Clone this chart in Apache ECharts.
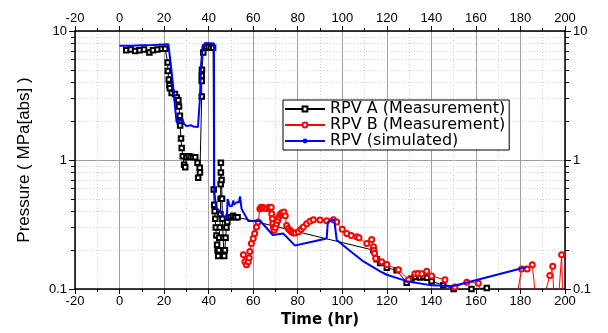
<!DOCTYPE html>
<html>
<head>
<meta charset="UTF-8">
<title>RPV pressure</title>
<script src="https://cdn.jsdelivr.net/npm/echarts@6/dist/echarts.min.js"></script>
<style>
  body { margin: 0; background: #fff; }
  #main { width: 608px; height: 333px; }
</style>
</head>
<body>
<div id="main"></div>
<script type="text/javascript">
// RPV A (Measurement)
var aTime = [3, 5, 7, 9, 11, 13.4, 15, 17, 19, 20.5,
  21.6, 21.7, 22.1, 22.4, 22.6, 23.4, 24.9, 25.7, 26.4, 26.7, 27.1, 27.1, 27.2, 27.6, 27.9, 28.4,
  29.0, 29.5, 30.0, 31.0, 32.0, 33.0, 34.0, 35.0, 35.3, 36.0, 36.1, 36.9, 36.9, 36.9, 37.0, 37.6, 38.4,
  39, 40, 41, 42,
  42.3, 42.5, 42.7, 43, 43.2, 43.5, 43.8, 44, 44.3, 44.6, 44.8, 45, 45.3, 45.4, 45.4, 45.5, 45.5,
  45.8, 46, 46.2, 46.5, 46.8, 47, 47.3, 47.6, 48, 48.4, 49, 50, 51, 52, 53,
  114, 115.5, 117, 120, 124.4, 128.9, 131, 132.6, 135, 136.4, 138, 140.1, 145.4, 150, 152, 158, 164.9];
var aPres = [7.1, 7.2, 7.0, 7.1, 7.2, 6.8, 7.1, 7.2, 7.3, 7.3,
  5.7, 4.9, 4.2, 3.8, 3.6, 3.3, 3.25, 3.05, 2.9, 2.6, 2.2, 2.0, 1.85, 1.47, 1.24, 1.07,
  0.92, 0.88, 1.05, 1.07, 1.06, 1.05, 1.05, 0.95, 0.73, 0.87, 0.8, 3.1, 4.1, 4.5, 5.0, 6.8, 7.4,
  7.5, 7.5, 7.4, 7.4,
  0.59, 0.45, 0.4, 0.35, 0.3, 0.26, 0.22, 0.2, 0.18, 0.2, 0.25, 0.3, 0.38, 0.5, 0.65, 0.8, 0.95,
  0.7, 0.5, 0.35, 0.25, 0.2, 0.18, 0.2, 0.25, 0.3, 0.33, 0.36, 0.36, 0.37, 0.36, 0.36,
  0.2, 0.17, 0.159, 0.146, 0.14, 0.112, 0.12, 0.124, 0.123, 0.125, 0.122, 0.115, 0.107, 0.1, 0.098, 0.1, 0.102];

// RPV B (Measurement)
var bTime = [55.6, 56.3, 57, 57.8, 58.2, 58.5, 59.2, 60, 60.7, 61.5, 62.2, 63, 63.5, 64, 64.5, 65, 66, 67, 67.5, 68.1,
  68.3, 68.6, 68.8, 69.1, 69.4, 70, 70.5, 71, 71.5, 72, 72.5, 73, 73.8, 74.4, 75, 75.7, 76.5, 77.2, 78, 79, 80.3, 81.5,
  82.5, 84, 85.5, 87, 90, 93, 96, 97.5, 100, 102, 104, 106.5, 107.5, 111, 113.2, 114, 114.2, 114.5, 115,
  117.7, 120, 125.2, 129.7, 132.6, 134, 135.7, 137.9, 140.1, 146.1, 146.3, 150.6, 155.9, 161.1, 163,
  178, 180.5, 183, 185.3, 187, 190, 193.2, 194.5, 195, 197, 198.5, 199];
var bPres = [0.184, 0.163, 0.154, 0.163, 0.175, 0.195, 0.225, 0.246, 0.269, 0.303, 0.33, 0.417, 0.43, 0.43, 0.425, 0.425, 0.42, 0.43, 0.42, 0.43,
  0.383, 0.35, 0.32, 0.3, 0.286, 0.3, 0.32, 0.34, 0.36, 0.375, 0.385, 0.39, 0.395, 0.37, 0.31, 0.295, 0.286, 0.278, 0.272, 0.272, 0.278, 0.29,
  0.303, 0.32, 0.335, 0.344, 0.342, 0.338, 0.344, 0.33, 0.29, 0.269, 0.26, 0.254, 0.25, 0.225, 0.242, 0.213, 0.2, 0.189, 0.173,
  0.163, 0.155, 0.141, 0.118, 0.131, 0.132, 0.131, 0.137, 0.126, 0.118, 0.095, 0.1035, 0.113, 0.111, 0.08,
  0.08, 0.143, 0.143, 0.154, 0.08, 0.08, 0.127, 0.15, 0.08, 0.08, 0.184, 0.08];

// RPV (simulated)
var simTime = [0, 5, 10, 15, 21.9, 22.5, 23.4, 24.3, 25, 25.6, 26.5, 28.2, 29, 30.1, 32, 33, 35.2, 36.1, 36.6, 37.3, 38.4, 42.4,
  42.5, 43.3, 45.1, 47, 48.2, 48.5, 49.6, 50.5, 51.1, 51.3, 52.6, 53.6, 54.1, 54.8, 57.8, 63.1, 68.8, 73.5, 78.8,
  93, 93.5, 95.5, 96.4, 97.5, 102, 109.5, 117, 120, 128.9, 140.1, 149.9, 182.8];
var simPres = [7.68, 7.7, 7.75, 7.8, 7.9, 6.5, 4.8, 3.4, 2.5, 1.97, 1.98, 2.08, 1.9, 1.83, 1.86, 1.82, 1.8, 3.0, 5.5, 7.6, 8.06, 8.0,
  0.58, 0.431, 0.398, 0.36, 0.36, 0.499, 0.437, 0.44, 0.486, 0.45, 0.47, 0.47, 0.522, 0.417, 0.336, 0.338, 0.262, 0.269, 0.217,
  0.246, 0.33, 0.344, 0.344, 0.24, 0.207, 0.1636, 0.137, 0.129, 0.115, 0.1067, 0.1054, 0.148];

var yMinorTicks = [0.2, 0.3, 0.4, 0.5, 0.6, 0.7, 0.8, 0.9, 2, 3, 4, 5, 6, 7, 8, 9];

function zip(t, p) {
  var out = [];
  for (var i = 0; i < t.length; i++) out.push([t[i], p[i]]);
  return out;
}

var font = 'Liberation Sans';

function xAxis(pos, grid) {
  return {
    type: 'value', position: pos, min: -20, max: 200, interval: 20,
    axisLine: { show: true, onZero: false, lineStyle: { color: '#000', width: 1.5 } },
    axisTick: { show: true, length: 5, lineStyle: { color: '#000' } },
    minorTick: { show: true, splitNumber: 2, length: 3, lineStyle: { color: '#000' } },
    axisLabel: { color: '#000', fontFamily: font, fontSize: 13, margin: 6 },
    splitLine: { show: grid, lineStyle: { color: '#a0a0a0', width: 1 } },
    minorSplitLine: { show: grid, lineStyle: { color: '#cfcfcf', type: [1, 2], width: 1 } },
    name: pos === 'bottom' ? 'Time (hr)' : '',
    nameLocation: 'middle', nameGap: 24,
    nameTextStyle: { color: '#000', fontFamily: 'DejaVu Sans', fontSize: 15, fontWeight: 'bold' }
  };
}

function yMajor(pos, grid) {
  return {
    type: 'log', logBase: 10, min: 0.1, max: 10, position: pos,
    axisLine: { show: true, onZero: false, lineStyle: { color: '#000', width: 1.5 } },
    axisTick: { show: true, length: 6, lineStyle: { color: '#000' } },
    axisLabel: { color: '#000', fontFamily: font, fontSize: 13, margin: 8 },
    splitLine: { show: grid, lineStyle: { color: '#a0a0a0', width: 1 } },
    name: pos === 'left' ? 'Pressure ( MPa[abs] )' : '',
    nameLocation: 'middle', nameGap: 42, nameRotate: 90,
    nameTextStyle: { color: '#000', fontFamily: font, fontSize: 17 }
  };
}

// decoration only: linear axis over log10 of the pressure range, giving
// minor ticks and dotted grid at 2..9 of each decade
function yMinor(pos, grid) {
  var vals = yMinorTicks.map(function (v) { return Math.log10(v); });
  return {
    type: 'value', min: -1, max: 1, position: pos,
    axisLine: { show: false, onZero: false },
    axisTick: { show: true, length: 4, customValues: vals, lineStyle: { color: '#000' } },
    axisLabel: { show: false, customValues: vals },
    splitLine: { show: grid, lineStyle: { color: '#cfcfcf', type: [1, 2], width: 1 } }
  };
}

var chart = echarts.init(document.getElementById('main'));
chart.setOption({
  animation: false,
  backgroundColor: '#fff',
  grid: { left: 75, right: 43, top: 31, bottom: 40 },
  legend: {
    left: 283, top: 100, orient: 'vertical',
    itemWidth: 40, itemHeight: 6, itemGap: 0,
    padding: [1, 4, 1, 1],
    borderColor: '#000', borderWidth: 1, backgroundColor: '#fff',
    textStyle: { color: '#000', fontFamily: 'DejaVu Sans', fontSize: 16, lineHeight: 15 },
    data: ['RPV A (Measurement)', 'RPV B (Measurement)', 'RPV (simulated)']
  },
  xAxis: [xAxis('bottom', true), xAxis('top', false)],
  yAxis: [yMajor('left', true), yMajor('right', false), yMinor('left', true), yMinor('right', false)],
  series: [
    {
      name: 'RPV A (Measurement)', type: 'line', data: zip(aTime, aPres),
      symbol: 'emptyRect', symbolSize: 4.5,
      itemStyle: { color: '#000', borderWidth: 1 },
      lineStyle: { color: '#000', width: 1 }, z: 3
    },
    {
      name: 'RPV B (Measurement)', type: 'line', data: zip(bTime, bPres),
      symbol: 'emptyCircle', symbolSize: 5,
      itemStyle: { color: '#ff0000', borderWidth: 1 },
      lineStyle: { color: '#ff0000', width: 1 }, z: 4
    },
    {
      name: 'RPV (simulated)', type: 'line', data: zip(simTime, simPres),
      showSymbol: false, symbol: 'none',
      itemStyle: { color: '#0000ff' },
      lineStyle: { color: '#0000ff', width: 2 }, z: 5
    }
  ]
});
</script>
</body>
</html>
